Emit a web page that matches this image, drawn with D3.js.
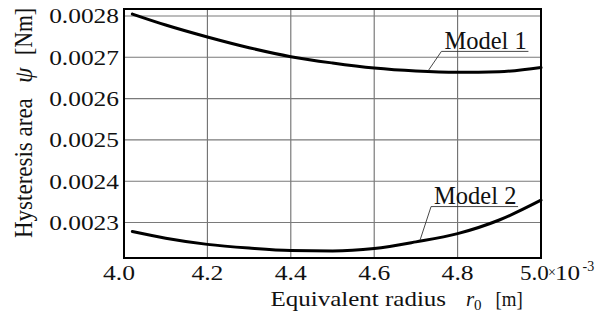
<!DOCTYPE html>
<html>
<head>
<meta charset="utf-8">
<script src="https://cdn.jsdelivr.net/npm/d3@7"></script>
</head>
<body style="margin:0;background:#fff">
<svg id="chart" width="602" height="315" style="display:block"></svg>
<script>
// ---- data ----
const radius = [4.02, 4.1, 4.2, 4.3, 4.4, 4.5, 4.6, 4.7, 4.8, 4.9, 5.0];          // x 10^-3 m
const model1 = [0.0028048, 0.0027782, 0.0027492, 0.0027232, 0.0027015, 0.0026862, 0.0026740, 0.0026668, 0.0026637, 0.0026651, 0.0026753];
const model2 = [0.0022780, 0.0022620, 0.0022470, 0.0022380, 0.0022320, 0.0022310, 0.0022370, 0.0022530, 0.0022730, 0.0023060, 0.0023540];
const xTicks = [4.0, 4.2, 4.4, 4.6, 4.8, 5.0];
const xTickLabels = ["4.0", "4.2", "4.4", "4.6", "4.8", "5.0"];
const yTicks = [0.0023, 0.0024, 0.0025, 0.0026, 0.0027, 0.0028];
const yTickLabels = ["0.0023", "0.0024", "0.0025", "0.0026", "0.0027", "0.0028"];
const seriesNames = ["Model 1", "Model 2"];

// ---- layout ----
const FONT = "Liberation Serif";
const svg = d3.select("#chart");
const pL = 124, pT = 9, pR = 541, pB = 258;

const x = d3.scaleLinear().domain([4.0, 5.0]).range([pL, pR]);
const y = d3.scaleLinear().domain([0.002214, 0.00281695]).range([pB, pT]);

// text helper: position via transform, horizontal stretch sx
const txt = (parent, tx, ty, size, s, sx = 1, anchor = "start") =>
  parent.append("text")
    .attr("font-family", FONT).attr("fill", "#111")
    .attr("font-size", size).attr("text-anchor", anchor)
    .attr("transform", `translate(${tx},${ty}) scale(${sx},1)`)
    .text(s);

// grid
svg.append("g").selectAll("line").data(xTicks.slice(1, -1)).join("line")
  .attr("x1", d => x(d)).attr("x2", d => x(d))
  .attr("y1", pT).attr("y2", pB)
  .attr("stroke", "#6e6e6e").attr("stroke-width", 1.1);
svg.append("g").selectAll("line").data(yTicks).join("line")
  .attr("x1", pL).attr("x2", pR)
  .attr("y1", d => y(d)).attr("y2", d => y(d))
  .attr("stroke", "#7a7a7a").attr("stroke-width", 1.1);

// frame
svg.append("rect")
  .attr("x", pL).attr("y", pT)
  .attr("width", pR - pL).attr("height", pB - pT)
  .attr("fill", "none").attr("stroke", "#000").attr("stroke-width", 2);

// curves
const line = d3.line().x((d, i) => x(radius[i])).y(d => y(d)).curve(d3.curveMonotoneX);
[model1, model2].forEach(s => {
  svg.append("path").datum(s).attr("d", line)
    .attr("fill", "none").attr("stroke", "#000").attr("stroke-width", 3)
    .attr("stroke-linecap", "round");
});

// y tick labels
yTicks.forEach((d, i) => txt(svg, 119, y(d) + 7.5, 21, yTickLabels[i], 1.21, "end"));

// x tick labels (last one carries the multiplier)
xTicks.slice(0, -1).forEach((d, i) =>
  txt(svg, x(d) - (i === 0 ? 5 : 0), 280, 21, xTickLabels[i], 1.22, "middle"));
const lastX = x(xTicks[xTicks.length - 1]);
txt(svg, lastX - 21, 280, 21, xTickLabels[xTickLabels.length - 1], 1.1);
txt(svg, lastX + 7, 277, 14, "×");
txt(svg, lastX + 14, 280, 21, "10", 1.2);
txt(svg, lastX + 41.5, 271, 14, "-3");

// x axis title
txt(svg, 270.5, 306, 21, "Equivalent radius", 1.19);
txt(svg, 466, 306, 21, "r").attr("font-style", "italic");
txt(svg, 474, 310, 15, "0");
txt(svg, 495.5, 306, 21, "[m]", 0.9);

// y axis title (rotated pieces)
const yl = svg.append("g").attr("transform", "translate(32,0) rotate(-90)");
txt(yl, -238, 0, 25, "Hysteresis area", 0.92);
txt(yl, -83, 0, 25, "ψ").attr("font-style", "italic");
txt(yl, -55, 0, 25, "[Nm]", 0.87);

// annotations
const annots = [
  { name: seriesNames[0], xv: 4.73, series: model1, dx: 13, dy: -19, ul: 87 },
  { name: seriesNames[1], xv: 4.71, series: model2, dx: 11, dy: -33.5, ul: 87 }
];
const interp = (s, xv) => {
  const i = d3.bisectLeft(radius, xv);
  const t = (xv - radius[i - 1]) / (radius[i] - radius[i - 1]);
  return s[i - 1] + t * (s[i] - s[i - 1]);
};
annots.forEach(a => {
  const ax = x(a.xv), ay = y(interp(a.series, a.xv)) - 1;
  const ex = ax + a.dx, ey = ay + a.dy;
  svg.append("line").attr("x1", ax).attr("y1", ay).attr("x2", ex).attr("y2", ey)
    .attr("stroke", "#333").attr("stroke-width", 0.9);
  svg.append("line").attr("x1", ex).attr("y1", ey).attr("x2", ex + a.ul).attr("y2", ey)
    .attr("stroke", "#333").attr("stroke-width", 0.9);
  txt(svg, ex + 3, ey - 2.5, 25, a.name, 0.98);
});
</script>
</body>
</html>
